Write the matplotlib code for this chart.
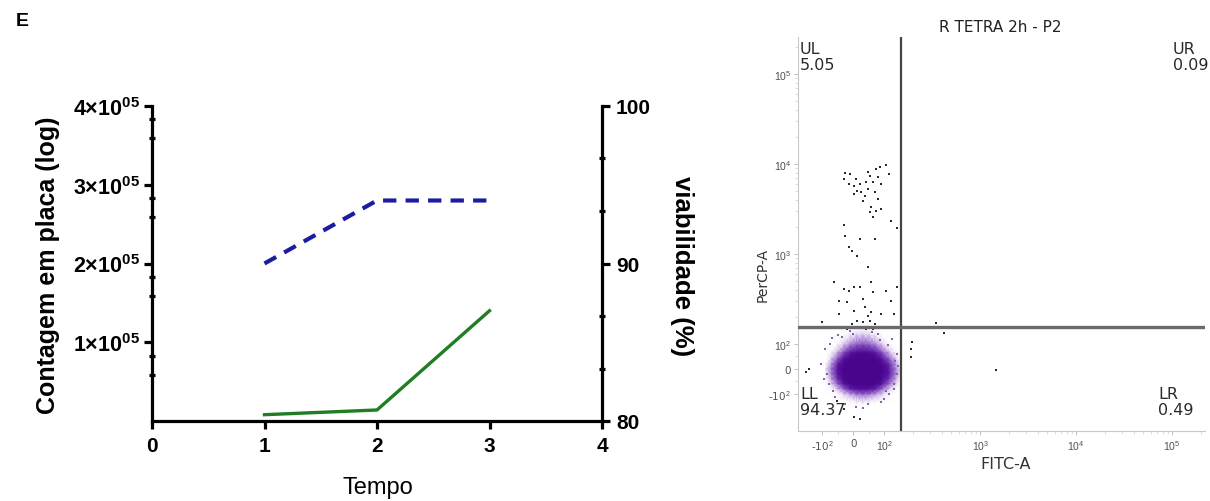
import matplotlib
matplotlib.use('Agg')
import matplotlib.pyplot as plt
import numpy as np
from matplotlib.colors import LinearSegmentedColormap

plt.rcParams['mathtext.fontset'] = 'custom'
plt.rcParams['mathtext.rm'] = 'Liberation Sans'
plt.rcParams['mathtext.bf'] = 'Liberation Sans:bold'
plt.rcParams['mathtext.default'] = 'bf'

# ---------------- Panel E (left): counts and viability ----------------
tempo = [1, 2, 3]
contagem = [8000, 14000, 140000]
viabilidade = [90, 94, 94]
x_ticks = [0, 1, 2, 3, 4]
count_ticks = [1e5, 2e5, 3e5, 4e5]
count_labels = ['1×10$^{05}$', '2×10$^{05}$', '3×10$^{05}$', '4×10$^{05}$']
count_minor = [0.59e5, 0.83e5, 1.59e5, 1.83e5, 2.59e5, 2.83e5, 3.59e5, 3.83e5]
viab_ticks = [80, 90, 100]
viab_minor = [83.33, 86.67, 93.33, 96.67]

# ---------------- Flow cytometry panel (right) ----------------
quadrants = ['UL', 'UR', 'LL', 'LR']
quad_values = ['5.05', '0.09', '94.37', '0.49']
gate_fitc = 150
gate_percp = 153

sparse_fitc = [-27, -10, -30, -13, 3, 13, 23, 37, 30, 47, 53, 73, 87, 105, 113, 80, 63, 90,
               47, 70, 80, 57, 73, 90, 53, 63, 118, 137, -30, -27, 20, 70, -13, -3, 7, 20, 40, 3,
               13, 47, -63, -30, -13, 3, 20, 57, 63, 105, 137, -47, -20, 30, 118, 37, 57, 3,
               -47, 47, 90, 13, 30, 53, -3, -102, 70, 7, 23, 40, 63, -20,
               348, 421, 196, 191, 191, 1470, 127,
               -137, -147, -53, 3, 20, -30]
sparse_percp = [7900, 7700, 6800, 6000, 5700, 5000, 4890, 4410, 3880, 8100, 7350, 8800, 9300,
                9800, 7700, 7170, 6300, 6000, 5270, 4890, 4080, 3330, 3000, 3160, 2930, 2580,
                2330, 1940, 2100, 1585, 1470, 1470, 1200, 1080, 6800, 6000, 6400, 4600,
                950, 717, 489, 408, 388, 430, 430, 489, 378, 388, 430, 300, 293, 316, 300, 258,
                227, 233, 215, 205, 215, 180, 175, 180, 167, 175, 167, 150, 155, 148, 146, 146,
                171, 132, 105, 80, 48, -4, 215,
                0, -12, -120, -180, -190, -147]

halo_fitc = [-93, -80, -60, -27, 47, 100, 127, 137, 137, 120, 80, -37, -70, -103, -87, 113, 7,
             -75, -50, 90, 110, 130, 60, -10, 30, -95, 125, 140, 105, -65, 85, 0]
halo_percp = [80, -60, -108, -129, -129, -114, -80, -20, 60, 114, 129, 120, 117, 20, -20, -100, -139,
              100, 125, -125, 95, 30, 135, 138, -145, -40, -60, 10, -90, -90, 110, 130]

blob_fitc = [-90, -70, -50, -30, -10, 10, 30, 50, 70, 90, 110, 130, 150]
blob_percp = [-130, -100, -80, -60, -40, -20, 0, 20, 40, 65, 95, 125, 165]
blob_density = [
    [0.00, 0.00, 0.00, 0.00, 0.00, 0.03, 0.05, 0.03, 0.00, 0.00, 0.00, 0.00, 0.00],
    [0.00, 0.00, 0.05, 0.16, 0.30, 0.42, 0.47, 0.42, 0.32, 0.18, 0.05, 0.00, 0.00],
    [0.00, 0.05, 0.22, 0.48, 0.72, 0.84, 0.88, 0.84, 0.72, 0.47, 0.20, 0.04, 0.00],
    [0.00, 0.17, 0.48, 0.82, 0.98, 1.00, 1.00, 1.00, 0.98, 0.82, 0.46, 0.16, 0.00],
    [0.04, 0.30, 0.68, 0.97, 1.00, 1.00, 1.00, 1.00, 1.00, 0.97, 0.66, 0.28, 0.03],
    [0.08, 0.38, 0.78, 1.00, 1.00, 1.00, 1.00, 1.00, 1.00, 1.00, 0.77, 0.36, 0.07],
    [0.09, 0.40, 0.80, 1.00, 1.00, 1.00, 1.00, 1.00, 1.00, 1.00, 0.78, 0.37, 0.08],
    [0.05, 0.32, 0.72, 0.98, 1.00, 1.00, 1.00, 1.00, 1.00, 0.98, 0.70, 0.30, 0.05],
    [0.00, 0.19, 0.52, 0.84, 1.00, 1.00, 1.00, 1.00, 1.00, 0.84, 0.50, 0.18, 0.00],
    [0.00, 0.07, 0.27, 0.56, 0.78, 0.90, 0.95, 0.90, 0.78, 0.56, 0.26, 0.06, 0.00],
    [0.00, 0.00, 0.07, 0.21, 0.38, 0.50, 0.55, 0.50, 0.38, 0.21, 0.06, 0.00, 0.00],
    [0.00, 0.00, 0.00, 0.03, 0.08, 0.13, 0.17, 0.13, 0.08, 0.03, 0.00, 0.00, 0.00],
    [0.00, 0.00, 0.00, 0.00, 0.00, 0.00, 0.00, 0.00, 0.00, 0.00, 0.00, 0.00, 0.00],
]

flow_ticks = [-100, 0, 100, 1000, 10000, 100000]
flow_labels = ['-10$\\mathrm{^2}$', '0', '$\\mathrm{10^2}$', '$\\mathrm{10^3}$',
               '$\\mathrm{10^4}$', '$\\mathrm{10^5}$']

W, H = 1210, 502
fig = plt.figure(figsize=(W / 100, H / 100), dpi=100)

def fx(px):
    return px / W

def fy(py):
    return 1 - py / H

# ---- left panel ----
ax = fig.add_axes([fx(152), fy(422), (602 - 152) / W, (422 - 107) / H])
for s in ['top', 'right']:
    ax.spines[s].set_visible(False)
for s in ['left', 'bottom']:
    ax.spines[s].set_linewidth(2.3)
ax.plot(tempo, contagem, color='#1f7d22', lw=2.4, solid_joinstyle='miter', zorder=3)
ax.set_xticks(x_ticks)
ax.set_xticklabels([str(t) for t in x_ticks], fontsize=15, fontweight='bold', family='Liberation Sans')
ax.set_yticks(count_ticks)
ax.set_yticklabels(count_labels, fontsize=15.5, fontweight='bold', family='Liberation Sans')
ax.set_yticks(count_minor, minor=True)
ax.set_xlim(0, 4)
ax.set_ylim(0, 4e5)
ax.tick_params(axis='both', which='major', direction='out', length=6, width=2.3, pad=3)
ax.tick_params(axis='y', which='minor', direction='inout', length=4, width=2.3)
ax.tick_params(axis='x', which='major', pad=5)

ax2 = ax.twinx()
for s in ['top', 'left', 'bottom']:
    ax2.spines[s].set_visible(False)
ax2.spines['right'].set_linewidth(2.3)
ax2.plot(tempo, viabilidade, color='#1c1ca0', lw=3.0, dashes=(3.2, 2.2), zorder=3)
ax2.set_yticks(viab_ticks)
ax2.set_yticklabels([str(v) for v in viab_ticks], fontsize=15, fontweight='bold', family='Liberation Sans')
ax2.set_yticks(viab_minor, minor=True)
ax2.set_ylim(80, 100)
ax2.tick_params(axis='y', which='major', direction='out', length=6, width=2.3, pad=4)
ax2.tick_params(axis='y', which='minor', direction='inout', length=4, width=2.3)

fig.text(fx(48), fy(265), 'Contagem em placa (log)', fontsize=18, fontweight='bold',
         family='Liberation Sans', rotation=90, ha='center', va='center')
fig.text(fx(682), fy(266), 'viabilidade (%)', fontsize=18.5, fontweight='bold',
         family='Liberation Sans', rotation=270, ha='center', va='center')
fig.text(fx(378), fy(488), 'Tempo', fontsize=17, family='Liberation Sans', ha='center', va='center')
fig.text(fx(22), fy(22), 'E', fontsize=14, fontweight='bold', family='Liberation Sans', ha='center', va='center')

# ---- flow cytometry panel ----
ax3 = fig.add_axes([fx(798), fy(432), (1205 - 798) / W, (432 - 38) / H])
ax3.set_xscale('symlog', linthresh=100, linscale=0.29)
ax3.set_yscale('symlog', linthresh=100, linscale=0.25)
for s in ['top', 'right']:
    ax3.spines[s].set_visible(False)
for s in ['left', 'bottom']:
    ax3.spines[s].set_color('#c8c8c8')
    ax3.spines[s].set_linewidth(0.8)

cmap = LinearSegmentedColormap.from_list('blob', [
    (0.0, (1, 1, 1, 0)),
    (0.12, (0.82, 0.72, 0.92, 0.5)),
    (0.40, (0.58, 0.38, 0.80, 0.85)),
    (0.75, (0.34, 0.08, 0.62, 1)),
    (1.0, (0.29, 0.02, 0.56, 1)),
])
BX, BY = np.meshgrid(blob_fitc, blob_percp)
ax3.pcolormesh(BX, BY, np.array(blob_density), shading='gouraud', cmap=cmap, vmin=0, vmax=1, zorder=1)
ax3.scatter(halo_fitc, halo_percp, s=3.5, color='#8466a8', marker='s', lw=0, zorder=2)
ax3.scatter(sparse_fitc, sparse_percp, s=4, color='#2a2a2a', marker='s', lw=0, zorder=2)

ax3.axvline(gate_fitc, color='#444444', lw=1.6, zorder=3)
ax3.axhline(gate_percp, color='#6a6a6a', lw=2.4, zorder=3)

ax3.set_xticks(flow_ticks)
ax3.set_xticklabels(flow_labels)
ax3.set_yticks(flow_ticks)
ax3.set_yticklabels(flow_labels)
minor_pos = [m * 10 ** k for k in range(2, 6) for m in range(2, 10)] + [-50, 50]
ax3.set_xticks(minor_pos, minor=True)
ax3.set_yticks(minor_pos, minor=True)
ax3.set_xlim(-180, 2.2e5)
ax3.set_ylim(-260, 2.6e5)
ax3.tick_params(axis='both', which='major', length=3, width=0.7, color='#c0c0c0',
                labelsize=7.5, labelcolor='#505050', pad=2)
ax3.tick_params(axis='both', which='minor', length=2, width=0.5, color='#d0d0d0')

fig.text(fx(1000), fy(28), 'R TETRA 2h - P2', ha='center', va='center', fontsize=11, color='#222')
fig.text(fx(1006), fy(465), 'FITC-A', ha='center', va='center', fontsize=11.5, color='#333')
fig.text(fx(763), fy(275), 'PerCP-A', ha='center', va='center', fontsize=10, color='#333', rotation=90)

quad_pos = [(800, 42), (1173, 42), (800, 387), (1158, 387)]
for name, val, (px, py) in zip(quadrants, quad_values, quad_pos):
    fig.text(fx(px), fy(py), name + '\n' + val, ha='left', va='top', fontsize=11.5,
             color='#2a2a2a', linespacing=1.1)

fig.savefig('out.png', dpi=100)
